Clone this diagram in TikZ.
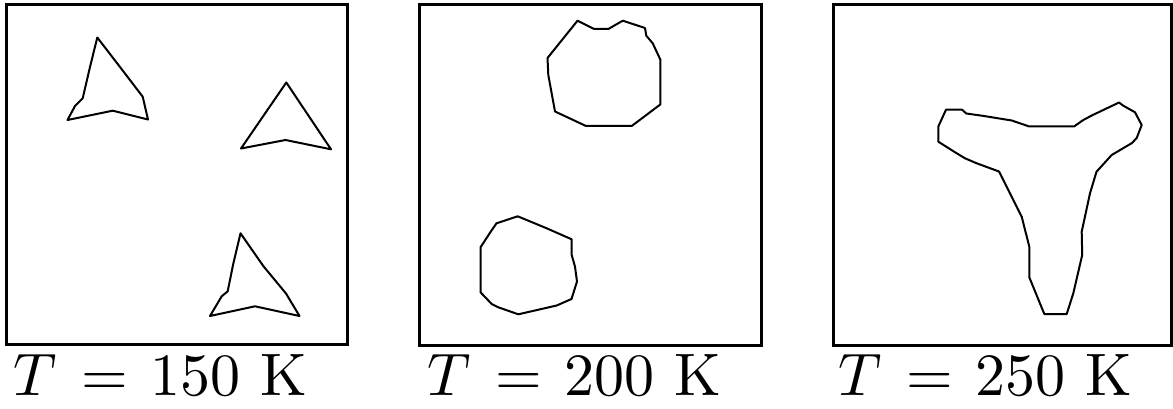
\documentclass[tikz,border=0pt]{standalone}
\tikzset{
  panel/.style={line width=3pt},
  blob/.style={line width=2pt, line join=round},
  lbl/.style={anchor=base west, inner sep=0pt, scale=6}
}
\newcommand{\tlabel}[1]{$T\hspace{1.33pt}=\hspace{1pt}#1$~K}
\begin{document}
\begin{tikzpicture}[x=1pt,y=-1pt]
\useasboundingbox (0,0) rectangle (1173,409);
% panels
\draw[panel] (6,5) rectangle (347,344);
\draw[panel] (419,5) rectangle (761,345);
\draw[panel] (833,5) rectangle (1171,345);
% labels
\node[lbl] (l1) at (12,395) {\tlabel{150}};
\node[lbl] (l2) at (426,395) {\tlabel{200}};
\node[lbl] (l3) at (837,395) {\tlabel{250}};
% panel 1: three triangles
\draw[blob] (97.3,37.5) -- (120,67) -- (142.7,96.7) -- (148,119.5) -- (112.7,110.7)
  -- (67.5,120) -- (75,106) -- (82.7,98.3) -- (90,67) -- cycle;
\draw[blob] (286.3,82.5) -- (331,149.3) -- (285.5,140) -- (241,148.5) -- cycle;
\draw[blob] (240.5,233.3) -- (263.5,266.3) -- (286,293.5) -- (299.5,316) -- (255,306.3)
  -- (210,316) -- (221.7,296.3) -- (227.7,291.3) -- (233,265) -- cycle;
% panel 2: two round blobs
\draw[blob] (577.5,20.7) -- (594,29) -- (608.3,29) -- (622.8,20.7) -- (645,28) -- (646.3,35.7)
  -- (652.7,43.3) -- (660.3,59.5) -- (660.3,104.5) -- (631.7,126) -- (586,126)
  -- (555,111.5) -- (548.3,75) -- (547.5,58) -- cycle;
\draw[blob] (517.7,216.3) -- (496.5,223.3) -- (490.7,231.7) -- (480.5,247.3) -- (480.5,292.3)
  -- (491.7,304) -- (498.3,307.3) -- (518.3,314.3) -- (556.7,305.5) -- (571.5,299)
  -- (577,281.5) -- (575,266.7) -- (571.7,255) -- (571.7,239.3) -- (546.7,228.3) -- cycle;
% panel 3: three-armed shape
\draw[blob] (946,109.7) -- (962,109.7) -- (966.3,113.5) -- (984,116) -- (1011.7,120.5)
  -- (1029.3,126.5) -- (1074,126.5) -- (1083.3,120) -- (1092.7,115) -- (1103.3,110)
  -- (1119,102.5) -- (1123.3,105.7) -- (1135,112.3) -- (1141.7,125) -- (1136.7,138)
  -- (1132,143) -- (1111.7,155) -- (1096.5,171.7) -- (1090,193.3) -- (1081.7,231.7)
  -- (1082.2,255) -- (1073.3,293.3) -- (1066.7,314) -- (1044.3,314) -- (1029.3,277.3)
  -- (1029.3,246.7) -- (1021.7,216.7) -- (999,171.5) -- (976.7,163.3) -- (965,158.3)
  -- (956.7,153.3) -- (938.3,141.7) -- (938.3,126.5) -- cycle;
\end{tikzpicture}
\end{document}
